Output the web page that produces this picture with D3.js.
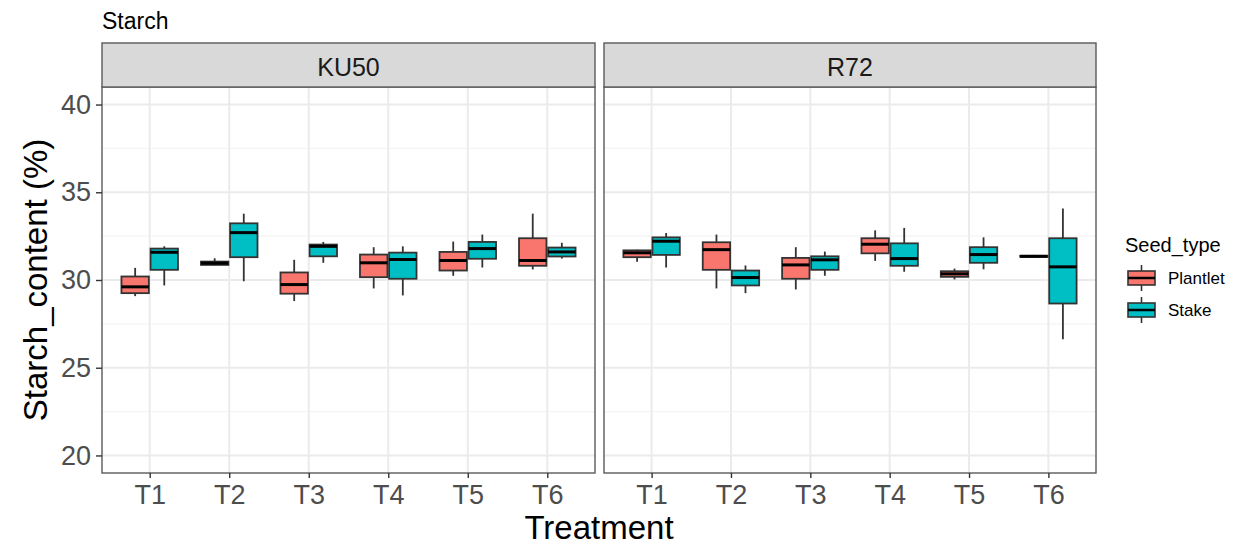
<!DOCTYPE html>
<html>
<head>
<meta charset="utf-8">
<script src="https://cdn.jsdelivr.net/npm/d3@7"></script>
<style>
    body { margin: 0; background: #fff; }
    text { font-family: "Liberation Sans", Arial, sans-serif; }
</style>
</head>
<body>
<script>
//categories
var treatments = ["T1", "T2", "T3", "T4", "T5", "T6"];
var varieties = ["KU50", "R72"];
var seedTypes = ["Plantlet", "Stake"];
var yTicks = [20, 25, 30, 35, 40];

//box stats per treatment: [lower whisker, q1, median, q3, upper whisker]
var ku50Plantlet = [
    [29.08, 29.25, 29.61, 30.20, 30.69],
    [30.84, 30.86, 30.96, 31.05, 31.24],
    [28.80, 29.22, 29.74, 30.43, 31.15],
    [29.52, 30.16, 30.98, 31.45, 31.87],
    [30.24, 30.54, 31.11, 31.60, 32.19],
    [30.60, 30.81, 31.11, 32.38, 33.78]
];
var ku50Stake = [
    [29.69, 30.58, 31.58, 31.79, 31.92],
    [29.93, 31.30, 32.70, 33.23, 33.78],
    [30.98, 31.35, 31.92, 32.02, 32.17],
    [29.12, 30.07, 31.17, 31.56, 31.92],
    [30.71, 31.21, 31.79, 32.17, 32.59],
    [31.22, 31.34, 31.60, 31.85, 32.12]
];
var r72Plantlet = [
    [31.04, 31.30, 31.55, 31.69, 31.72],
    [29.52, 30.58, 31.73, 32.15, 32.59],
    [29.46, 30.07, 30.86, 31.26, 31.87],
    [31.09, 31.52, 32.04, 32.38, 32.83],
    [30.03, 30.18, 30.35, 30.50, 30.65],
    [31.30, 31.32, 31.35, 31.38, 31.43]
];
var r72Stake = [
    [30.71, 31.43, 32.21, 32.43, 32.68],
    [29.25, 29.69, 30.14, 30.54, 30.83],
    [30.24, 30.58, 31.15, 31.35, 31.62],
    [30.47, 30.81, 31.22, 32.09, 32.97],
    [30.61, 30.98, 31.45, 31.87, 32.43],
    [26.62, 28.66, 30.75, 32.38, 34.08]
];

var colors = { "Plantlet": "#F8766D", "Stake": "#00BFC4" };

//lookup of stats by variety and seed type
var stats = { "KU50": { "Plantlet": ku50Plantlet, "Stake": ku50Stake },
              "R72": { "Plantlet": r72Plantlet, "Stake": r72Stake } };

window.onload = drawChart();

function drawChart() {
    var width = 1248,
        height = 545;

    var svg = d3.select("body")
        .append("svg")
        .attr("width", width)
        .attr("height", height);

    //panel geometry
    var panelTop = 87,
        panelBottom = 473,
        stripTop = 43,
        panels = [{ name: varieties[0], x0: 102, x1: 595 }, { name: varieties[1], x0: 604, x1: 1096 }];

    var y = d3.scaleLinear()
        .domain([19, 41])
        .range([panelBottom, panelTop]);

    var minorTicks = [22.5, 27.5, 32.5, 37.5];

    //plot title
    svg.append("text")
        .attr("x", 102)
        .attr("y", 29)
        .attr("font-size", 23)
        .attr("fill", "#000")
        .text("Starch");

    panels.forEach(function(p, pi) {
        var x = d3.scalePoint()
            .domain(treatments)
            .range([p.x0, p.x1])
            .padding(0.6);
        var step = x.step();
        var g = svg.append("g");

        //panel background
        g.append("rect")
            .attr("x", p.x0).attr("y", panelTop)
            .attr("width", p.x1 - p.x0).attr("height", panelBottom - panelTop)
            .attr("fill", "#fff");

        //grid lines
        g.selectAll(".minor")
            .data(minorTicks)
            .enter().append("line")
            .attr("x1", p.x0).attr("x2", p.x1)
            .attr("y1", function(d) { return y(d); })
            .attr("y2", function(d) { return y(d); })
            .attr("stroke", "#F4F4F4")
            .attr("stroke-width", 1.2);
        g.selectAll(".major")
            .data(yTicks)
            .enter().append("line")
            .attr("x1", p.x0).attr("x2", p.x1)
            .attr("y1", function(d) { return y(d); })
            .attr("y2", function(d) { return y(d); })
            .attr("stroke", "#EBEBEB")
            .attr("stroke-width", 2);
        g.selectAll(".vgrid")
            .data(treatments)
            .enter().append("line")
            .attr("x1", function(d) { return x(d); })
            .attr("x2", function(d) { return x(d); })
            .attr("y1", panelTop).attr("y2", panelBottom)
            .attr("stroke", "#EBEBEB")
            .attr("stroke-width", 2);

        //boxes
        seedTypes.forEach(function(s, si) {
            var offset = (si === 0 ? -0.183 : 0.183) * step,
                bw = 0.345 * step;
            var rows = stats[p.name][s].map(function(v, i) {
                return { t: treatments[i], v: v };
            });
            var bg = g.selectAll(".box-" + s)
                .data(rows)
                .enter().append("g");
            bg.append("line")
                .attr("x1", function(d) { return x(d.t) + offset; })
                .attr("x2", function(d) { return x(d.t) + offset; })
                .attr("y1", function(d) { return y(d.v[0]); })
                .attr("y2", function(d) { return y(d.v[4]); })
                .attr("stroke", "#333")
                .attr("stroke-width", 1.8);
            bg.append("rect")
                .attr("x", function(d) { return x(d.t) + offset - bw / 2; })
                .attr("width", bw)
                .attr("y", function(d) { return y(d.v[3]); })
                .attr("height", function(d) { return y(d.v[1]) - y(d.v[3]); })
                .attr("fill", colors[s])
                .attr("stroke", "#333")
                .attr("stroke-width", 1.8);
            bg.append("line")
                .attr("x1", function(d) { return x(d.t) + offset - bw / 2; })
                .attr("x2", function(d) { return x(d.t) + offset + bw / 2; })
                .attr("y1", function(d) { return y(d.v[2]); })
                .attr("y2", function(d) { return y(d.v[2]); })
                .attr("stroke", "#000")
                .attr("stroke-width", 3);
        });

        //panel border
        g.append("rect")
            .attr("x", p.x0).attr("y", panelTop)
            .attr("width", p.x1 - p.x0).attr("height", panelBottom - panelTop)
            .attr("fill", "none")
            .attr("stroke", "#5a5a5a")
            .attr("stroke-width", 1.4);

        //strip
        g.append("rect")
            .attr("x", p.x0).attr("y", stripTop)
            .attr("width", p.x1 - p.x0).attr("height", panelTop - stripTop)
            .attr("fill", "#D9D9D9")
            .attr("stroke", "#5a5a5a")
            .attr("stroke-width", 1.4);
        g.append("text")
            .attr("x", (p.x0 + p.x1) / 2)
            .attr("y", 76)
            .attr("text-anchor", "middle")
            .attr("font-size", 25)
            .attr("fill", "#1A1A1A")
            .text(p.name);

        //x axis
        var xAxis = d3.axisBottom(x).tickSize(5).tickPadding(7);
        var xg = g.append("g")
            .attr("transform", "translate(0," + panelBottom + ")")
            .call(xAxis);
        xg.select(".domain").remove();
        xg.selectAll(".tick line").attr("stroke", "#333").attr("stroke-width", 1.4);
        xg.selectAll(".tick text")
            .attr("font-size", 27)
            .attr("font-family", "Liberation Sans, Arial, sans-serif")
            .attr("fill", "#4D4D4D");

        //y axis on first panel only
        if (pi === 0) {
            var yAxis = d3.axisLeft(y).tickValues(yTicks).tickSize(6).tickPadding(5);
            var yg = g.append("g")
                .attr("transform", "translate(" + p.x0 + ",0)")
                .call(yAxis);
            yg.select(".domain").remove();
            yg.selectAll(".tick line").attr("stroke", "#333").attr("stroke-width", 1.4);
            yg.selectAll(".tick text")
                .attr("font-size", 27)
                .attr("font-family", "Liberation Sans, Arial, sans-serif")
                .attr("fill", "#4D4D4D");
        }
    });

    //axis titles
    svg.append("text")
        .attr("x", (102 + 1096) / 2)
        .attr("y", 539)
        .attr("text-anchor", "middle")
        .attr("font-size", 33)
        .attr("fill", "#000")
        .text("Treatment");
    svg.append("text")
        .attr("transform", "translate(47," + (panelTop + panelBottom) / 2 + ") rotate(-90)")
        .attr("text-anchor", "middle")
        .attr("font-size", 33)
        .attr("fill", "#000")
        .text("Starch_content (%)");

    //legend
    var legend = svg.append("g");
    legend.append("text")
        .attr("x", 1125)
        .attr("y", 252)
        .attr("font-size", 20)
        .attr("fill", "#000")
        .text("Seed_type");
    var items = legend.selectAll(".item")
        .data(seedTypes)
        .enter().append("g")
        .attr("transform", function(d, i) { return "translate(1128," + (278 + i * 32) + ")"; });
    items.append("line")
        .attr("x1", 13.5).attr("x2", 13.5)
        .attr("y1", -13).attr("y2", 13)
        .attr("stroke", "#333").attr("stroke-width", 1.6);
    items.append("rect")
        .attr("x", 0).attr("y", -7)
        .attr("width", 27).attr("height", 14)
        .attr("fill", function(d) { return colors[d]; })
        .attr("stroke", "#333").attr("stroke-width", 1.6);
    items.append("line")
        .attr("x1", 0).attr("x2", 27)
        .attr("y1", 0).attr("y2", 0)
        .attr("stroke", "#000").attr("stroke-width", 2.5);
    items.append("text")
        .attr("x", 40)
        .attr("y", 6)
        .attr("font-size", 17)
        .attr("fill", "#000")
        .text(function(d) { return d; });
}
</script>
</body>
</html>
